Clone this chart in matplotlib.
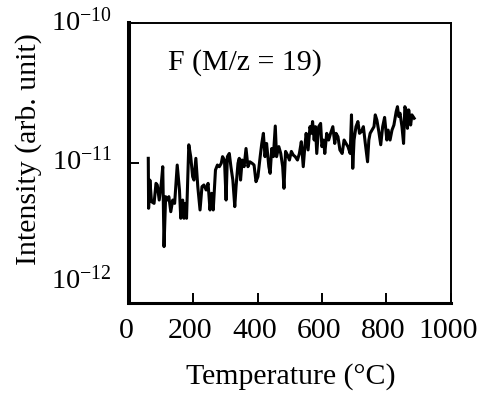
import matplotlib
matplotlib.use("Agg")
import matplotlib.pyplot as plt
import matplotlib.transforms as mtransforms

plt.rcParams['font.family'] = ['Liberation Serif', 'DejaVu Serif']
plt.rcParams['mathtext.fontset'] = 'custom'
plt.rcParams['mathtext.rm'] = 'Liberation Serif'

# temperature (deg C) and intensity (units of 1e-12, arb.)
temperature = [60, 61, 65, 70, 78, 84, 88, 94, 101, 105, 109, 114, 119, 124, 130, 136, 142, 150,
               157, 161, 167, 171, 175, 179, 186, 192, 198, 202, 208, 214, 221, 227, 233, 240,
               246, 252, 257, 262, 269, 275, 281, 287, 291, 297, 302, 306, 312, 317, 323, 329,
               333, 339, 343, 347, 352, 358, 364, 370, 376, 383, 389, 395, 401, 408, 413, 418,
               423, 428, 435, 439, 444, 449, 455, 459, 466, 472, 478, 482, 487, 493, 499, 505,
               511, 517, 524, 530, 536, 542, 547, 551, 557, 563, 567, 571, 576, 580, 584, 590,
               596, 600, 605, 609, 615, 621, 627, 634, 640, 644, 650, 656, 663, 669, 675, 681,
               688, 692, 696, 700, 706, 712, 717, 723, 729, 735, 742, 746, 750, 756, 762, 766,
               771, 777, 783, 789, 795, 802, 806, 812, 818, 824, 831, 835, 839, 843, 849, 854,
               858, 862, 866, 870, 876, 880, 887]
intensity = [10.8, 4.74, 7.55, 5.29, 5.14, 7.15, 6.96, 5.43, 7.35, 9.41, 2.52, 5.74, 5.43, 5.74,
             4.48, 5.43, 5.14, 9.67, 6.41, 4.02, 5.43, 4.02, 5.14, 4.02, 13.5, 11.1, 7.98, 7.55,
             10.8, 6.77, 4.61, 6.77, 6.96, 6.41, 7.15, 4.61, 6.07, 4.61, 8.91, 9.67, 9.41, 9.95,
             11.1, 10.5, 5.43, 11.1, 11.7, 9.41, 7.55, 4.87, 6.77, 9.95, 10.8, 7.55, 10.5, 9.41,
             12.7, 9.41, 10.2, 9.95, 9.67, 7.35, 7.98, 11.1, 13.8, 16.3, 11.1, 13.8, 9.41, 8.43,
             12.7, 11.1, 18.4, 11.1, 13.1, 11.7, 9.41, 6.59, 12.1, 11.4, 10.5, 12.1, 11.4, 11.1,
             10.5, 11.7, 14.2, 9.41, 13.1, 16.3, 12.4, 18.2, 16.3, 19.8, 14.6, 18.2, 11.7, 18.2,
             19.2, 13.1, 14.6, 11.7, 16.3, 14.6, 16.3, 18.2, 13.8, 16.3, 15.4, 12.4, 11.7, 14.6,
             13.8, 13.1, 11.7, 22.1, 9.16, 14.6, 18.2, 19.8, 16.3, 16.8, 18.2, 13.8, 10.2, 14.6,
             16.3, 17.2, 18.2, 22.1, 20.3, 16.8, 13.5, 18.2, 21.2, 14.6, 17.2, 14.6, 17.2, 18.7,
             23.3, 25.3, 21.5, 22.7, 18.2, 13.8, 25.3, 24.0, 17.7, 24.0, 18.7, 22.1, 20.9]

x_ticks = [0, 200, 400, 600, 800, 1000]
y_ticks = [1e-12, 1e-11, 1e-10]
y_tick_labels = [r'$\mathregular{10^{-12}}$', r'$\mathregular{10^{-11}}$', r'$\mathregular{10^{-10}}$']

fig = plt.figure(figsize=(4.84, 3.96), dpi=100)
ax = fig.add_axes([0.2665, 0.2356, 0.6643, 0.7056])

ax.plot(temperature, [v * 1e-12 for v in intensity], color='k', linewidth=2.2)

ax.set_yscale('log')
ax.set_xlim(0, 1000)
ax.set_ylim(1e-12, 1e-10)
ax.set_xticks(x_ticks)
ax.set_yticks(y_ticks)
ax.set_yticklabels(y_tick_labels)
ax.minorticks_off()
ax.tick_params(direction='in', length=7, width=1.4, labelsize=20.5, pad=12)
ax.tick_params(axis='x', labelsize=21.5, pad=11)

# nudge tick labels like the original
for lab, dy in zip(ax.get_yticklabels(), [18, 3, 3]):
    lab.set_transform(lab.get_transform() + mtransforms.ScaledTranslation(0, dy / 72, fig.dpi_scale_trans))
for lab in ax.get_xticklabels():
    lab.set_transform(lab.get_transform() + mtransforms.ScaledTranslation(-2 / 72, 0, fig.dpi_scale_trans))

ax.spines['left'].set_linewidth(2.9)
ax.spines['bottom'].set_linewidth(2.2)
ax.spines['top'].set_linewidth(1.4)
ax.spines['right'].set_linewidth(1.4)

ax.set_xlabel('Temperature (°C)', fontsize=21.5)
ax.set_ylabel('Intensity (arb. unit)', fontsize=21.5)
ax.xaxis.set_label_coords(0.504, -0.215)
ax.yaxis.set_label_coords(-0.27, 0.55)

ax.text(0.121, 0.858, 'F (M/z = 19)', transform=ax.transAxes, fontsize=21.5, va='center', ha='left')

fig.savefig('out.png', dpi=100)
